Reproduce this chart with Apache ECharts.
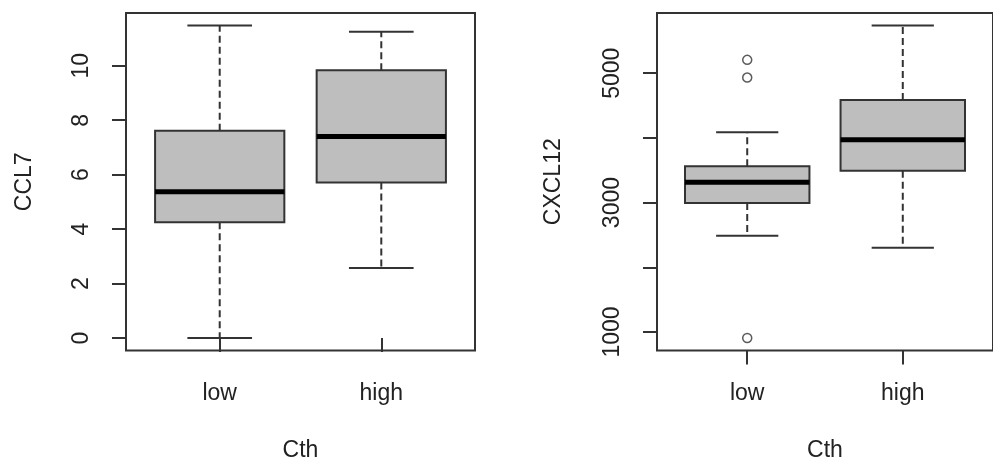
<!DOCTYPE html>
<html><head><meta charset="utf-8">
<script src="https://cdn.jsdelivr.net/npm/echarts@6/dist/echarts.min.js"></script>
<style>html,body{margin:0;padding:0;background:#fff}#c{width:993px;height:467px}</style>
</head><body><div id="c"></div>
<script>
// ---- data ----
const categories = ['low', 'high'];
// [min whisker, Q1, median, Q3, max whisker]
const ccl7Low = [0, 4.25, 5.37, 7.61, 11.48];
const ccl7High = [2.57, 5.71, 7.40, 9.84, 11.25];
const cxcl12Low = [2486, 2992, 3313, 3560, 4087];
const cxcl12High = [2300, 3492, 3972, 4587, 5737];
const cxcl12LowOutliers = [907, 4932, 5206];
const cxcl12HighOutliers = [];
const ccl7Ticks = [0, 2, 4, 6, 8, 10];
const ccl7TickLabels = [0, 2, 4, 6, 8, 10];
const cxcl12Ticks = [1000, 2000, 3000, 4000, 5000];
const cxcl12TickLabels = [1000, 3000, 5000];
const xTitle = 'Cth';
const yTitles = ['CCL7', 'CXCL12'];

// ---- styles ----
const FONT = 'Liberation Sans, Arial, sans-serif';
const TXT = '#222';
const LINE = '#333';
const LW = 2;
const catPos = categories.map((c, i) => i + 1);

function rangeOf(arrs) {
  const all = [].concat(...arrs);
  const mn = Math.min(...all), mx = Math.max(...all);
  const e = (mx - mn) * 0.04;
  return [mn - e, mx + e];
}

function renderBox(params, api) {
  const x = api.value(0);
  const mn = api.value(1), q1 = api.value(2), md = api.value(3), q3 = api.value(4), mx = api.value(5);
  const bw = api.size([0.8, 0])[0];
  const cw = bw / 2;
  const pMin = api.coord([x, mn]), pQ1 = api.coord([x, q1]), pMd = api.coord([x, md]);
  const pQ3 = api.coord([x, q3]), pMax = api.coord([x, mx]);
  const cx = pMin[0];
  const dash = { stroke: LINE, lineWidth: LW, lineDash: [7, 4], fill: null };
  const solid = { stroke: LINE, lineWidth: LW, fill: null };
  return {
    type: 'group', children: [
      { type: 'line', shape: { x1: cx, y1: pQ3[1], x2: cx, y2: pMax[1] }, style: dash },
      { type: 'line', shape: { x1: cx, y1: pQ1[1], x2: cx, y2: pMin[1] }, style: dash },
      { type: 'line', shape: { x1: cx - cw / 2, y1: pMax[1], x2: cx + cw / 2, y2: pMax[1] }, style: solid },
      { type: 'line', shape: { x1: cx - cw / 2, y1: pMin[1], x2: cx + cw / 2, y2: pMin[1] }, style: solid },
      { type: 'rect', shape: { x: cx - bw / 2, y: pQ3[1], width: bw, height: pQ1[1] - pQ3[1] },
        style: { fill: '#bebebe', stroke: LINE, lineWidth: LW } },
      { type: 'line', shape: { x1: cx - bw / 2, y1: pMd[1], x2: cx + bw / 2, y2: pMd[1] },
        style: { stroke: '#000', lineWidth: 5 } }
    ]
  };
}

function xAxisFor(gi) {
  return {
    type: 'value', gridIndex: gi, min: 0.42, max: 2.58,
    axisLine: { show: false }, splitLine: { show: false },
    axisTick: { show: true, customValues: catPos, length: 14, lineStyle: { color: LINE, width: LW } },
    axisLabel: { customValues: catPos, formatter: v => categories[Math.round(v) - 1],
      fontSize: 23, fontFamily: FONT, color: TXT, margin: 43, verticalAlign: 'middle' },
    name: xTitle, nameLocation: 'middle', nameGap: 100,
    nameTextStyle: { fontSize: 23, fontFamily: FONT, color: TXT, verticalAlign: 'middle' }
  };
}
function yAxisFor(gi, range, ticks, labels, title, gap) {
  return {
    type: 'value', gridIndex: gi, min: range[0], max: range[1],
    axisLine: { show: false }, splitLine: { show: false },
    axisTick: { show: true, customValues: ticks, length: 14, lineStyle: { color: LINE, width: LW } },
    axisLabel: { customValues: labels, formatter: v => String(v), rotate: 90, fontSize: 23, fontFamily: FONT, color: TXT,
      margin: 44, align: 'center', verticalAlign: 'middle' },
    name: title, nameLocation: 'middle', nameGap: gap, nameRotate: 90,
    nameTextStyle: { fontSize: 23, fontFamily: FONT, color: TXT, verticalAlign: 'middle', align: 'center' }
  };
}

const r1 = rangeOf([ccl7Low, ccl7High]);
const r2 = rangeOf([cxcl12Low, cxcl12High, cxcl12LowOutliers, cxcl12HighOutliers]);

const outlierPts = [];
cxcl12LowOutliers.forEach(v => outlierPts.push([1, v]));
cxcl12HighOutliers.forEach(v => outlierPts.push([2, v]));

const option = {
  backgroundColor: '#fff',
  animation: false,
  grid: [
    { left: 126, top: 13, width: 349, height: 338, show: true, borderColor: LINE, borderWidth: LW, backgroundColor: 'transparent' },
    { left: 657, top: 13, width: 347, height: 338, show: true, borderColor: LINE, borderWidth: LW, backgroundColor: 'transparent' }
  ],
  xAxis: [xAxisFor(0), xAxisFor(1)],
  yAxis: [
    yAxisFor(0, r1, ccl7Ticks, ccl7TickLabels, yTitles[0], 101),
    yAxisFor(1, r2, cxcl12Ticks, cxcl12TickLabels, yTitles[1], 103)
  ],
  series: [
    { type: 'custom', xAxisIndex: 0, yAxisIndex: 0, renderItem: renderBox,
      encode: { x: 0, y: [1, 2, 3, 4, 5] },
      data: [[1, ...ccl7Low], [2, ...ccl7High]] },
    { type: 'custom', xAxisIndex: 1, yAxisIndex: 1, renderItem: renderBox,
      encode: { x: 0, y: [1, 2, 3, 4, 5] },
      data: [[1, ...cxcl12Low], [2, ...cxcl12High]] },
    { type: 'scatter', xAxisIndex: 1, yAxisIndex: 1, symbol: 'circle', symbolSize: 9,
      itemStyle: { color: 'rgba(255,255,255,0)', borderColor: LINE, borderWidth: 1.5 },
      data: outlierPts }
  ]
};
const chart = echarts.init(document.getElementById('c'), null, { renderer: 'canvas' });
chart.setOption(option);
</script>
</body></html>
